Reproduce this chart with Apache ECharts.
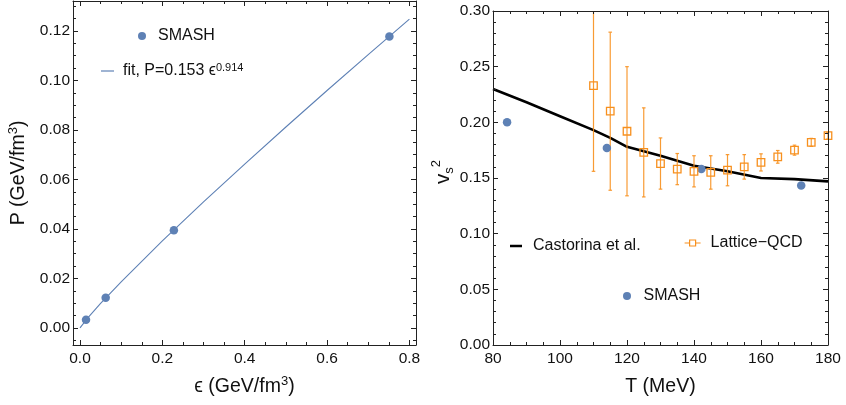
<!DOCTYPE html>
<html><head><meta charset="utf-8">
<script src="https://cdn.jsdelivr.net/npm/echarts@6/dist/echarts.min.js"></script>
<style>html,body{margin:0;padding:0;background:#fff}#c{width:846px;height:405px}</style>
</head><body><div id="c"></div>
<script>
// ---------- Left panel data ----------
const smashEps = [0.0146, 0.0624, 0.228, 0.7514];
const smashP   = [0.00335, 0.01224, 0.0395, 0.1178];
const fitEps = [0, 0.02, 0.05, 0.1, 0.2, 0.3, 0.4, 0.5, 0.6, 0.7, 0.8];
const fitP   = [0, 0.00428, 0.0099, 0.01865, 0.03514, 0.05091, 0.06622, 0.0812, 0.09593, 0.11043, 0.12477];
const leftXMajor = [0, 0.2, 0.4, 0.6, 0.8];
const leftXMinor = [0.05, 0.1, 0.15, 0.25, 0.3, 0.35, 0.45, 0.5, 0.55, 0.65, 0.7, 0.75];
const leftYMajor = [0, 0.02, 0.04, 0.06, 0.08, 0.10, 0.12];
const leftYMinor = [-0.005, 0.005, 0.01, 0.015, 0.025, 0.03, 0.035, 0.045, 0.05, 0.055, 0.065, 0.07, 0.075, 0.085, 0.09, 0.095, 0.105, 0.11, 0.115, 0.125, 0.13];

// ---------- Right panel data ----------
const castT = [80, 90, 100, 110, 115, 120, 130, 140, 150, 160, 170, 180];
const castV = [0.230, 0.218, 0.2055, 0.193, 0.186, 0.178, 0.170, 0.161, 0.156, 0.150, 0.149, 0.147];
const latT   = [110, 115, 120, 125, 130, 135, 140, 145, 150, 155, 160, 165, 170, 175, 180];
const latV   = [0.233, 0.210, 0.192, 0.173, 0.163, 0.158, 0.156, 0.155, 0.157, 0.160, 0.164, 0.169, 0.175, 0.182, 0.188];
const latErr = [0.077, 0.071, 0.058, 0.040, 0.023, 0.014, 0.014, 0.015, 0.014, 0.011, 0.0077, 0.0057, 0.0045, 0.0036, 0.003];
const smashT  = [84.2, 114.0, 142.2, 172.0];
const smashV2 = [0.200, 0.177, 0.158, 0.1433];

const FONT = 'Liberation Sans, Arial, Helvetica, sans-serif';
const AX = '#222';
const BLUE = '#5e81b5';
const ORANGE = '#f7901e';
const TICK_FS = 15.5;
const TITLE_FS = 19.5;
const LEG_FS = 16;
const EPS = '\u03f5';

function axis(extra) {
  const base = {
    type: 'value',
    splitLine: { show: false },
    axisLine: { show: true, onZero: false, lineStyle: { color: AX, width: 1 } },
    axisTick: { show: true, inside: true, length: 5, lineStyle: { color: AX, width: 1 } },
    axisLabel: { show: false },
    minorTick: { show: false },
    z: 10
  };
  return Object.assign(base, extra);
}
function minorAxis(extra, vals) {
  return axis(Object.assign({
    axisLine: { show: false, onZero: false },
    axisTick: { show: true, inside: true, length: 3, customValues: vals, lineStyle: { color: AX, width: 1 } }
  }, extra));
}
const lblStyle = { color: '#111', fontSize: TICK_FS, fontFamily: FONT };

const xL = { gridIndex: 0, min: -0.017, max: 0.816 };
const yL = { gridIndex: 0, min: -0.0069, max: 0.1321 };
const xR = { gridIndex: 1, min: 80, max: 180, interval: 20 };
const yR = { gridIndex: 1, min: 0, max: 0.30, interval: 0.05 };

const xAxes = [
  axis(Object.assign({}, xL, {
    position: 'bottom',
    axisTick: { show: true, inside: true, length: 5, customValues: leftXMajor, lineStyle: { color: AX } },
    axisLabel: Object.assign({ show: true, margin: 6, customValues: leftXMajor, formatter: v => v.toFixed(1) }, lblStyle),
    name: '{n|' + EPS + ' (GeV/fm}{s|3}{n|)}', nameLocation: 'middle', nameGap: 30,
    nameTextStyle: { fontFamily: FONT, color: '#111', rich: {
      n: { fontSize: TITLE_FS, fontFamily: FONT, color: '#111', lineHeight: 24 },
      s: { fontSize: 13, fontFamily: FONT, color: '#111', verticalAlign: 'top' } } }
  })),
  minorAxis(Object.assign({}, xL, { position: 'bottom' }), leftXMinor),
  axis(Object.assign({}, xL, { position: 'top',
    axisTick: { show: true, inside: true, length: 5, customValues: leftXMajor, lineStyle: { color: AX } } })),
  minorAxis(Object.assign({}, xL, { position: 'top' }), leftXMinor),
  axis(Object.assign({}, xR, {
    position: 'bottom',
    minorTick: { show: true, splitNumber: 4, length: 3, lineStyle: { color: AX } },
    axisLabel: Object.assign({ show: true, margin: 6 }, lblStyle),
    name: 'T (MeV)', nameLocation: 'middle', nameGap: 30,
    nameTextStyle: { fontFamily: FONT, color: '#111', fontSize: TITLE_FS, lineHeight: 24 }
  })),
  axis(Object.assign({}, xR, { position: 'top',
    minorTick: { show: true, splitNumber: 4, length: 3, lineStyle: { color: AX } } }))
];

const yAxes = [
  axis(Object.assign({}, yL, {
    position: 'left',
    axisTick: { show: true, inside: true, length: 5, customValues: leftYMajor, lineStyle: { color: AX } },
    axisLabel: Object.assign({ show: true, margin: 3, customValues: leftYMajor, formatter: v => v.toFixed(2) }, lblStyle),
    name: '{n|P (GeV/fm}{s|3}{n|)}', nameLocation: 'middle', nameGap: 42,
    nameTextStyle: { fontFamily: FONT, color: '#111', rich: {
      n: { fontSize: TITLE_FS, fontFamily: FONT, color: '#111', lineHeight: 24 },
      s: { fontSize: 13, fontFamily: FONT, color: '#111', verticalAlign: 'top' } } }
  })),
  minorAxis(Object.assign({}, yL, { position: 'left' }), leftYMinor),
  axis(Object.assign({}, yL, { position: 'right',
    axisTick: { show: true, inside: true, length: 5, customValues: leftYMajor, lineStyle: { color: AX } } })),
  minorAxis(Object.assign({}, yL, { position: 'right' }), leftYMinor),
  axis(Object.assign({}, yR, {
    position: 'left',
    minorTick: { show: true, splitNumber: 5, length: 3, lineStyle: { color: AX } },
    axisLabel: Object.assign({ show: true, margin: 3, formatter: v => v.toFixed(2) }, lblStyle),
    name: '{v|v}{s|s}{p|2}', nameLocation: 'middle', nameGap: 35,
    nameTextStyle: { fontFamily: FONT, color: '#111', padding: [0, 0, 0, 12], rich: {
      v: { fontSize: TITLE_FS + 1, fontFamily: FONT, color: '#111', lineHeight: 26 },
      s: { fontSize: 13, fontFamily: FONT, color: '#111', verticalAlign: 'bottom' },
      p: { fontSize: 13, fontFamily: FONT, color: '#111', verticalAlign: 'top' } } }
  })),
  axis(Object.assign({}, yR, { position: 'right',
    minorTick: { show: true, splitNumber: 5, length: 3, lineStyle: { color: AX } } }))
];

const zip = (a, b) => a.map((v, i) => [v, b[i]]);

const legText = { fontSize: LEG_FS, fontFamily: FONT, color: '#111', lineHeight: 18 };

const option = {
  animation: false,
  backgroundColor: '#fff',
  grid: [
    { left: 73, top: 1, width: 343, height: 344, containLabel: false, outerBoundsMode: 'none' },
    { left: 493, top: 11, width: 335, height: 334, containLabel: false, outerBoundsMode: 'none' }
  ],
  xAxis: xAxes,
  yAxis: yAxes,
  legend: [
    { left: 138, top: 27, selectedMode: false, itemWidth: 8, itemHeight: 8, padding: 0,
      data: [{ name: 'SMASH', icon: 'circle', itemStyle: { color: BLUE } }],
      textStyle: Object.assign({ padding: [0, 0, 0, 7] }, legText) },
    { left: 101, top: 62, selectedMode: false, itemWidth: 13, itemHeight: 1.2, padding: 0,
      data: [{ name: 'fit', icon: 'rect', itemStyle: { color: BLUE } }],
      formatter: () => '{a|fit, P=0.153 ' + EPS + '}{b|0.914}',
      textStyle: Object.assign({ padding: [0, 0, 0, 4], rich: {
        a: { fontSize: LEG_FS, fontFamily: FONT, color: '#111', lineHeight: 18 },
        b: { fontSize: 11, fontFamily: FONT, color: '#111', verticalAlign: 'top' } } }, legText) },
    { left: 510, top: 237, selectedMode: false, itemWidth: 12, itemHeight: 2.5, padding: 0,
      data: [{ name: 'Castorina et al.', icon: 'rect', itemStyle: { color: '#000' } }],
      textStyle: Object.assign({ padding: [0, 0, 0, 6] }, legText) },
    { left: 684, top: 234, selectedMode: false, itemWidth: 16, itemHeight: 7, padding: 0,
      data: [{ name: 'Lattice\u2212QCD', icon: 'path://M0,4H5M11,4H16M5,1H11V7H5Z',
        itemStyle: { color: 'rgba(255,255,255,0)', borderColor: ORANGE, borderWidth: 1.2 } }],
      textStyle: Object.assign({ padding: [0, 0, 0, 5] }, legText) },
    { left: 623, top: 287, selectedMode: false, itemWidth: 8, itemHeight: 8, padding: 0,
      data: [{ name: 'SMASH', icon: 'circle', itemStyle: { color: BLUE } }],
      textStyle: Object.assign({ padding: [0, 0, 0, 7.5] }, legText) }
  ],
  series: [
    { name: 'fit', type: 'line', xAxisIndex: 0, yAxisIndex: 0, data: zip(fitEps, fitP),
      showSymbol: false, symbol: 'none', smooth: false,
      lineStyle: { color: BLUE, width: 1.1 }, itemStyle: { color: BLUE }, z: 2 },
    { name: 'SMASH', type: 'scatter', xAxisIndex: 0, yAxisIndex: 0, data: zip(smashEps, smashP),
      symbol: 'circle', symbolSize: 8.5, itemStyle: { color: BLUE, opacity: 1 }, z: 3 },
    { name: 'Castorina et al.', type: 'line', xAxisIndex: 4, yAxisIndex: 4, data: zip(castT, castV),
      showSymbol: false, symbol: 'none', lineStyle: { color: '#000', width: 2.6 }, itemStyle: { color: '#000' }, z: 2 },
    { name: 'Lattice errors', type: 'custom', xAxisIndex: 4, yAxisIndex: 4, clip: true, z: 3,
      data: latT.map((t, i) => [t, latV[i], latErr[i]]),
      renderItem: function (params, api) {
        const x = api.value(0), y = api.value(1), e = api.value(2);
        const top = api.coord([x, y + e]);
        const bot = api.coord([x, y - e]);
        const w = 1.8;
        const st = { stroke: ORANGE, lineWidth: 1.2, opacity: 0.9 };
        return { type: 'group', children: [
          { type: 'line', shape: { x1: top[0], y1: top[1], x2: bot[0], y2: bot[1] }, style: st },
          { type: 'line', shape: { x1: top[0] - w, y1: top[1], x2: top[0] + w, y2: top[1] }, style: st },
          { type: 'line', shape: { x1: bot[0] - w, y1: bot[1], x2: bot[0] + w, y2: bot[1] }, style: st }
        ] };
      } },
    { name: 'Lattice\u2212QCD', type: 'scatter', xAxisIndex: 4, yAxisIndex: 4, data: zip(latT, latV),
      symbol: 'rect', symbolSize: 7.5,
      itemStyle: { color: 'rgba(255,255,255,0)', borderColor: ORANGE, borderWidth: 1.3, opacity: 1 }, z: 4 },
    { name: 'SMASH', type: 'scatter', xAxisIndex: 4, yAxisIndex: 4, data: zip(smashT, smashV2),
      symbol: 'circle', symbolSize: 8.5, itemStyle: { color: BLUE, opacity: 1 }, z: 3 }
  ]
};

const chart = echarts.init(document.getElementById('c'), null, { renderer: 'canvas' });
chart.setOption(option);
</script>
</body></html>
